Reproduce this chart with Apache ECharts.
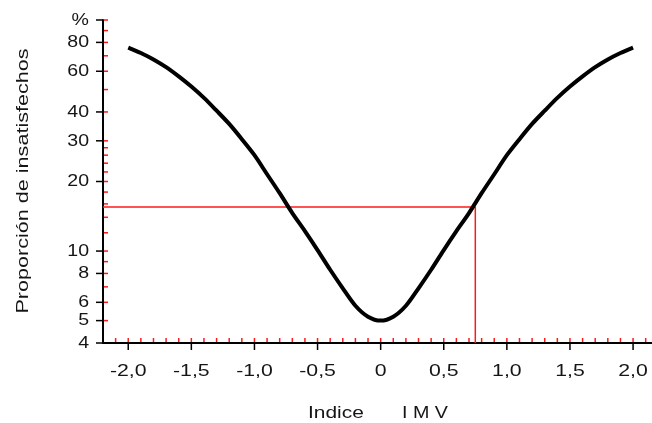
<!DOCTYPE html>
<html><head><meta charset="utf-8">
<script src="https://cdn.jsdelivr.net/npm/echarts@6/dist/echarts.min.js"></script>
<style>html,body{margin:0;padding:0;background:#fff}#c{width:652px;height:423px}</style>
</head><body><div id="c"></div>
<script>
// ---- data ----
const pmv = [-2.0,-1.9,-1.8,-1.7,-1.6,-1.5,-1.4,-1.3,-1.2,-1.1,-1.0,-0.9,-0.8,-0.7,-0.6,-0.5,-0.4,-0.3,-0.2,-0.1,0.0,
             0.1,0.2,0.3,0.4,0.5,0.6,0.7,0.8,0.9,1.0,1.1,1.2,1.3,1.4,1.5,1.6,1.7,1.8,1.9,2.0];
const ppd = [76,72,67.5,62.5,57,51.5,46,40.5,35.5,30.5,26,21.5,17.8,14.6,12.2,10.1,8.3,6.9,5.8,5.2,5.0,
             5.2,5.8,6.9,8.3,10.1,12.2,14.6,17.8,21.5,26,30.5,35.5,40.5,46,51.5,57,62.5,67.5,72,76];
const refPoint = [0.75, 15.5];
const xMajorTicks = [-2,-1.5,-1,-0.5,0,0.5,1,1.5,2];
const xMajorLabels = ['-2,0','-1,5','-1,0','-0,5','0','0,5','1,0','1,5','2,0'];
const xMinorTicks = [-2.1,-2.0,-1.9,-1.8,-1.7,-1.6,-1.5,-1.4,-1.3,-1.2,-1.1,-1.0,-0.9,-0.8,-0.7,-0.6,-0.5,-0.4,-0.3,-0.2,-0.1,0,
                     0.1,0.2,0.3,0.4,0.5,0.6,0.7,0.8,0.9,1.0,1.1,1.2,1.3,1.4,1.5,1.6,1.7,1.8,1.9,2.0,2.1];
const yMajorTicks = [100,80,60,40,30,20,10,8,6,5,4];
const yMajorLabels = ['%','80','60','40','30','20','10','8','6','5','4'];
const yMinorTicks = [100,90,80,70,60,50,40,30,28,26,24,22,20,18,16,14,12,10,9,8,7,6,5];
const xName1 = 'Indice', xName2 = 'I M V';
const yName = 'Proporción de insatisfechos';

const X_MIN = -2.2, X_MAX = 2.15, Y_MIN = 4, Y_MAX = 100;
const FONT = '17px "Liberation Sans", Arial, sans-serif';
const TXT = '#151515';
const RED = '#ff1a1a';

const chart = echarts.init(document.getElementById('c'), null, {renderer:'canvas'});

function tickSeries(points, draw) {
  return {
    type: 'custom', coordinateSystem: 'cartesian2d', silent: true, clip: false, z: 5,
    data: points,
    renderItem: function (params, api) {
      const p = api.coord([api.value(0), api.value(1)]);
      return draw(p, params.dataIndex);
    }
  };
}

const option = {
  animation: false,
  backgroundColor: '#fff',
  grid: {left: 103, right: 0, top: 20, bottom: 80},
  xAxis: {type: 'value', min: X_MIN, max: X_MAX,
    axisLine: {show: true, onZero: false, lineStyle: {color: '#000', width: 2}},
    axisTick: {show: false}, axisLabel: {show: false}, splitLine: {show: false}},
  yAxis: {type: 'log', logBase: 10, min: Y_MIN, max: Y_MAX,
    axisLine: {show: true, onZero: false, lineStyle: {color: '#000', width: 2}},
    axisTick: {show: false}, axisLabel: {show: false}, splitLine: {show: false}},
  graphic: [
    {type: 'text', x: 23, y: 181, rotation: Math.PI / 2, scaleX: 1.27,
     style: {text: yName, font: FONT, fill: TXT, align: 'center', verticalAlign: 'middle'}},
    {type: 'text', x: 308, y: 413, scaleX: 1.23,
     style: {text: xName1, font: FONT, fill: TXT, align: 'left', verticalAlign: 'middle'}},
    {type: 'text', x: 402, y: 413, scaleX: 1.16,
     style: {text: xName2, font: FONT, fill: TXT, align: 'left', verticalAlign: 'middle'}}
  ],
  series: [
    {type: 'line', data: pmv.map((x, i) => [x, ppd[i]]), smooth: 0.3, showSymbol: false, z: 4,
     lineStyle: {color: '#000', width: 4}, itemStyle: {color: '#000'}},
    {type: 'line', data: [[X_MIN, refPoint[1]], refPoint, [refPoint[0], Y_MIN]], showSymbol: false, z: 3,
     lineStyle: {color: RED, width: 1.5}, itemStyle: {color: RED}},
    // y major ticks (black, outside) + labels
    tickSeries(yMajorTicks.map(v => [X_MIN, v]), (p, i) => ({type: 'group', children: [
      {type: 'line', shape: {x1: p[0] - 7, y1: p[1], x2: p[0], y2: p[1]}, style: {stroke: '#000', lineWidth: 1.5}},
      {type: 'text', x: p[0] - 14, y: p[1], scaleX: 1.15,
       style: {text: yMajorLabels[i], font: FONT, fill: TXT, align: 'right', verticalAlign: 'middle'}}
    ]})),
    // y minor ticks (red, inside)
    tickSeries(yMinorTicks.map(v => [X_MIN, v]), (p) => ({type: 'line',
      shape: {x1: p[0] + 1, y1: p[1], x2: p[0] + 5, y2: p[1]}, style: {stroke: RED, lineWidth: 1.5}})),
    // x major ticks (black, outside) + labels
    tickSeries(xMajorTicks.map(v => [v, Y_MIN]), (p, i) => ({type: 'group', children: [
      {type: 'line', shape: {x1: p[0], y1: p[1], x2: p[0], y2: p[1] + 7}, style: {stroke: '#000', lineWidth: 1.5}},
      {type: 'text', x: p[0], y: p[1] + 28, scaleX: 1.25,
       style: {text: xMajorLabels[i], font: FONT, fill: TXT, align: 'center', verticalAlign: 'middle'}}
    ]})),
    // x minor ticks (red, inside)
    tickSeries(xMinorTicks.map(v => [v, Y_MIN]), (p) => ({type: 'line',
      shape: {x1: p[0], y1: p[1] - 1, x2: p[0], y2: p[1] - 5}, style: {stroke: RED, lineWidth: 1.5}}))
  ]
};
chart.setOption(option);
</script></body></html>
